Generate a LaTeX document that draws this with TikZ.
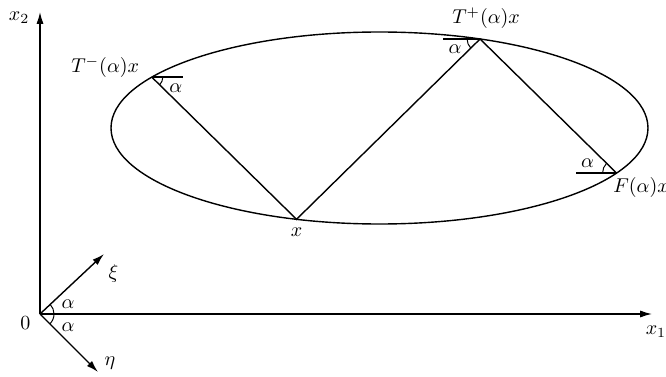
\documentclass[tikz,border=0pt]{standalone}
\usepackage{amsmath,amssymb}
\usetikzlibrary{positioning,arrows.meta,angles}

\begin{document}
\begin{tikzpicture}[
  x=0.5pt, y=0.5pt, line width=0.7pt,
  every node/.style={inner sep=1pt},
  arr/.style={-{Latex[length=6pt,width=3.6pt]}},
  ang/.style={draw, line width=0.5pt, angle radius=#1}
]
\useasboundingbox (0,0) rectangle (666,376);
% axes and the rotated frame
\coordinate (O) at (40,62);
\coordinate (X1) at (652,62);
\coordinate (X2) at (40,364);
\coordinate (Xi) at (104,122);
\coordinate (Eta) at (98,4);
\draw[arr] (O) -- (X1);
\draw[arr] (O) -- (X2);
\draw[arr] (O) -- (Xi);
\draw[arr] (O) -- (Eta);
\pic[ang=7pt] {angle=X1--O--Xi};
\pic[ang=7pt] {angle=Eta--O--X1};
\node (l0) [below left=0pt and 3.5pt of O] {$0$};
\node (lx1) [below=4.5pt of X1, xshift=2pt] {$x_1$};
\node (lx2) [left=4pt of X2, yshift=-3pt] {$x_2$};
\node (lXi) [below right=4pt and 1pt of Xi] {$\xi$};
\node (lEta) [right=2pt of Eta, yshift=4.5pt] {$\eta$};
\path (O) ++(28,10) node (a1) {$\alpha$};
\path (O) ++(28,-13) node (a2) {$\alpha$};
% ellipse and reflection points
\begin{scope}[shift={(379.5,248)}]
  \draw (0,0) ellipse [x radius=268.5, y radius=96];
  \coordinate (Tm) at (148:268.5 and 96);
  \coordinate (Tp) at (68:268.5 and 96);
  \coordinate (F) at (-28:268.5 and 96);
  \coordinate (X) at (-108:268.5 and 96);
\end{scope}
\draw (Tm) -- (X) -- (Tp) -- (F);
\path (Tm) ++(31,0) coordinate (hTm);
\path (Tp) ++(-37,0) coordinate (hTp);
\path (F) ++(-41,0) coordinate (hF);
\draw (Tm) -- (hTm);
\draw (Tp) -- (hTp);
\draw (F) -- (hF);
\pic[ang=5.5pt] {angle=X--Tm--hTm};
\pic[ang=6.5pt] {angle=hTp--Tp--X};
\pic[ang=7pt] {angle=Tp--F--hF};
\node (lTm) [above left=-1.5pt and 5pt of Tm] {$T^-(\alpha)x$};
\node (lTp) [above=4pt of Tp, xshift=3pt] {$T^+(\alpha)x$};
\node (lF) [below right=1pt and -3pt of F] {$F(\alpha)x$};
\node (lX) [below=3pt of X] {$x$};
\path (Tm) ++(24,-11) node (aTm) {$\alpha$};
\path (Tp) ++(-25,-10) node (aTp) {$\alpha$};
\path (F) ++(-29,10) node (aF) {$\alpha$};
\end{tikzpicture}
\end{document}
